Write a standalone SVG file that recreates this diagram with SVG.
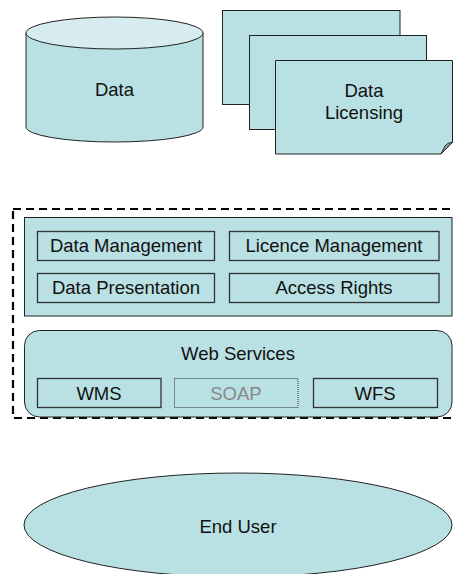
<svg xmlns="http://www.w3.org/2000/svg" width="455" height="574" viewBox="0 0 455 574">
<style>
.f{fill:#b9e0e3;stroke:#222;stroke-width:1}
.t{font-family:"Liberation Sans",Arial,sans-serif;font-size:18.5px;fill:#111;text-anchor:middle}
.s{fill:none;stroke:#333;stroke-width:1.3}
</style>
<rect width="455" height="574" fill="#fff"/>
<g id="data">
<path class="f" d="M26,33 L26,127 A88.5,15 0 0 0 203,127 L203,33"/>
<ellipse cx="114.5" cy="33" rx="88.5" ry="16" fill="#d6ecee" stroke="#222" stroke-width="1"/>
<text class="t" x="114.5" y="96">Data</text>
</g>
<g id="licensing">
<rect class="f" x="222.5" y="10.5" width="177.5" height="94"/>
<rect class="f" x="249.5" y="35.5" width="177" height="94"/>
<path class="f" d="M275.5,60.5 H452.5 V142 L441,154 H275.5 Z"/>
<path d="M441,154 L445,146 Q447,143 452.5,142 Z" fill="#8fb2b4" stroke="#222" stroke-width="1"/>
<text class="t" x="364" y="97">Data</text>
<text class="t" x="364" y="119">Licensing</text>
</g>
<g id="platform">
<rect x="13" y="209" width="446" height="209" fill="none" stroke="#000" stroke-width="2.2" stroke-dasharray="8,5"/>
<rect class="f" x="24.5" y="217.5" width="427.5" height="98.5"/>
<g id="data-management"><rect class="s" x="37.5" y="231.5" width="177" height="29"/><text class="t" x="126" y="252">Data Management</text></g>
<g id="licence-management"><rect class="s" x="229.5" y="231.5" width="209.5" height="29"/><text class="t" x="334" y="252">Licence Management</text></g>
<g id="data-presentation"><rect class="s" x="37.5" y="273.5" width="177" height="29"/><text class="t" x="126" y="294">Data Presentation</text></g>
<g id="access-rights"><rect class="s" x="229.5" y="273.5" width="209.5" height="29"/><text class="t" x="334" y="294">Access Rights</text></g>
<rect class="f" x="24.5" y="330.5" width="427.5" height="86.5" rx="15" ry="15"/>
<text class="t" x="238" y="360">Web Services</text>
<g id="wms"><rect class="s" x="37.5" y="378.5" width="123.5" height="29"/><text class="t" x="99" y="400">WMS</text></g>
<g id="soap"><rect x="174.5" y="378.5" width="123.5" height="29" fill="none" stroke="#333" stroke-width="1" stroke-dasharray="1,1"/><text class="t" x="236" y="400" style="fill:#888">SOAP</text></g>
<g id="wfs"><rect class="s" x="313.5" y="378.5" width="124" height="29"/><text class="t" x="375" y="400">WFS</text></g>
</g>
<g id="end-user">
<ellipse class="f" cx="238" cy="525" rx="214" ry="52"/>
<text class="t" x="238" y="533">End User</text>
</g>
<g id="connectors"></g>
</svg>
